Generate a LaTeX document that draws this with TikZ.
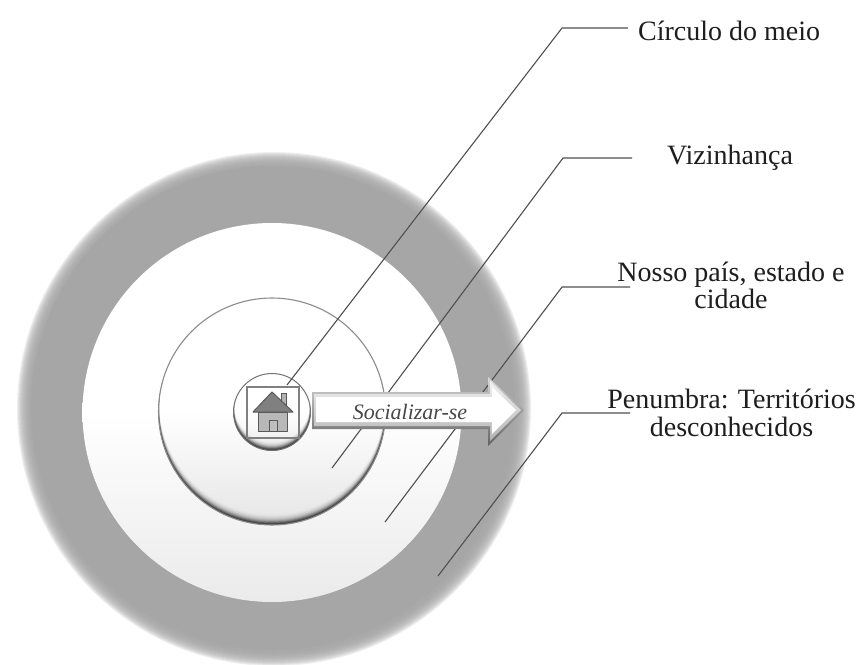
\documentclass[tikz,border=0pt]{standalone}
\usepackage{fontspec}
\setmainfont{Liberation Serif}
\definecolor{ringgray}{HTML}{A6A6A6}
\definecolor{linegray}{HTML}{505050}
\definecolor{textgray}{HTML}{1E1E1E}
\tikzset{
  disc/.style={circle,inner sep=0pt,outer sep=0pt},
  leader/.style={draw=linegray,line width=1.1pt},
  label/.style={text=textgray,font=\fontsize{28}{27.5}\selectfont,align=center,inner sep=0pt},
  housepart/.style={draw=black!65,line width=1pt,line join=round}
}
\begin{document}
\begin{tikzpicture}[x=1pt,y=-1pt]
\useasboundingbox (0,0) rectangle (858,664);
\fill[white] (0,0) rectangle (858,664);
% penumbra with soft edge
\foreach \r in {257,256,255,254,253,252,251,250,249,248,247,246,245,244,243}
  \fill[ringgray,opacity=.17] (274,409) circle[radius=\r];
\fill[ringgray] (273,408) circle[radius=242];
\node[disc,minimum size=379pt,top color=white,bottom color=black!8,middle color=white] (country) at (272,412.5) {};
% neighbourhood: bevelled lower edge as stacked crescents
\node[disc,minimum size=227pt,top color=white,bottom color=black!10,middle color=white] (hood) at (272,411.5) {};
\begin{scope}
\clip (272,411.5) circle[radius=113.5];
\foreach \d/\o in {1/.28,2/.24,3/.18,4/.13,5/.09,6/.06,7/.04,8/.03,9/.02,10/.01}
  \fill[black,opacity=\o,even odd rule] (272,411.5) circle[radius=130] (272,411.5-\d) circle[radius=113];
\end{scope}
\draw[black!45,line width=1.1pt] (272,411.5) circle[radius=113.5];
% leaders
\node[label,anchor=west] (l1) at (638,31) {Círculo do meio};
\node[label] (l2) at (730,158) {Vizinhança};
\node[label] (l3) at (731,285.5) {Nosso país, estado e\\cidade};
\node[label] (l4) at (731.5,413) {Penumbra: Territórios\\desconhecidos};
\coordinate (b1) at (562,28); \coordinate (e1) at (628,28); \coordinate (s1) at (287,385);
\coordinate (b2) at (563,158); \coordinate (e2) at (632,158); \coordinate (s2) at (332,468);
\coordinate (b3) at (562,287); \coordinate (e3) at (630,287); \coordinate (s3) at (385,522);
\coordinate (b4) at (562,413); \coordinate (e4) at (630,413); \coordinate (s4) at (438,576);
\draw[leader] (s2) -- (b2) -- (e2);
\draw[leader] (s3) -- (b3) -- (e3);
\draw[leader] (s4) -- (b4) -- (e4);
% home disc
\node[disc,minimum size=77pt,top color=white,bottom color=black!8,middle color=white] (home) at (272,412) {};
\begin{scope}
\clip (272,412) circle[radius=38.5];
\foreach \d/\o in {1/.3,2/.25,3/.18,4/.12,5/.08,6/.05,7/.03,8/.02}
  \fill[black,opacity=\o,even odd rule] (272,412) circle[radius=50] (272,412-\d) circle[radius=38];
\end{scope}
\draw[black!55,line width=1pt] (272,412) circle[radius=38.5];
\draw[leader] (s1) -- (b1) -- (e1);
\node[draw=black!50,line width=1.2pt,minimum width=52pt,minimum height=51pt,inner sep=0pt] (frame) at (273,412.5) {};
% house
\draw[housepart,fill=black!30] (281.5,393) rectangle (286.5,405);
\draw[housepart,fill=black!28] (258,412) rectangle (287,431);
\draw[housepart,fill=black!50] (253,412) -- (272,392) -- (293,412) -- cycle;
\draw[housepart,fill=black!25] (269,420) rectangle (277,431);
% arrow
\path[top color=black!15,bottom color=black!62] (312,392) -- (488,392) -- (488,377) -- (524,410) -- (488,446) -- (488,429) -- (312,429) -- cycle;
\path[top color=black!5,bottom color=black!30] (314,394) -- (490,394) -- (490,381) -- (521,410) -- (490,441) -- (490,426) -- (314,426) -- cycle;
\path[fill=white] (316,397) -- (492,397) -- (492,387) -- (516,410) -- (492,434) -- (492,422) -- (316,422) -- cycle;
\node[text=black!72,font=\fontsize{22}{22}\selectfont\itshape,inner sep=0pt] (social) at (410,412) {Socializar-se};
\end{tikzpicture}
\end{document}
